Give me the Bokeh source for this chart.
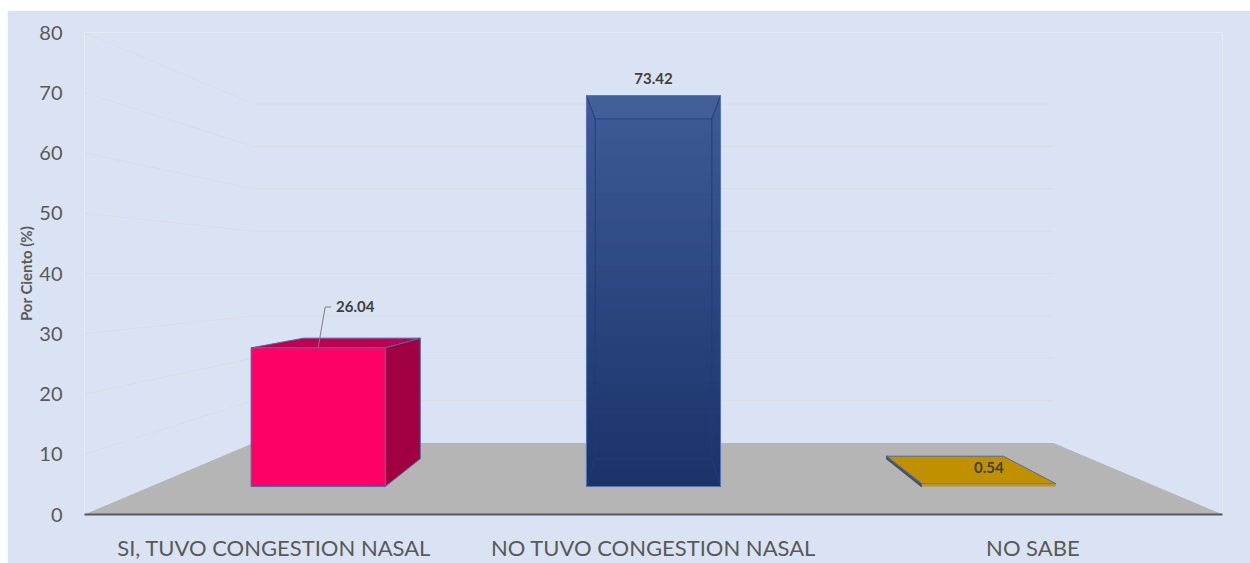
from bokeh.plotting import figure
from bokeh.models import Range1d, FixedTicker
from bokeh.core.properties import value
from bokeh.embed import file_html
from bokeh.resources import INLINE

# ---- data ----
categories = ["SI, TUVO CONGESTION NASAL", "NO TUVO CONGESTION NASAL", "NO SABE"]
percent = [26.04, 73.42, 0.54]
y_ticks = [0, 10, 20, 30, 40, 50, 60, 70, 80]
y_title = "Por Ciento (%)"

# ---- layout / style ----
BG = "#DAE3F3"
FONT = "Lato"
TEXT = "#595959"
N = len(categories)
CX, CV = N / 2, 40           # vanishing point: centre of the floor, value 40
S_BACK, S_FRONT, S_REAR = 0.703, 0.884, 0.7685   # depth scale of wall, bar front, bar rear
BAR_HALF = 0.2
EDGE = "#4F69A8"
label_dx = [37, 0, 0]
label_dy = [41, 17, 16]


def proj(x, v, s):
    return CX + (x - CX) * s, CV + (v - CV) * s


def face(points):
    return [p[0] for p in points], [p[1] for p in points]


p = figure(width=1243, height=553, output_backend="svg", toolbar_location=None,
           x_range=Range1d(0, N), y_range=Range1d(0, 80),
           min_border_left=77, min_border_right=28, min_border_top=22, min_border_bottom=47,
           background_fill_color=BG, border_fill_color=BG, outline_line_color=None,
           styles={"position": "absolute", "left": "7px", "top": "10px"})
p.grid.visible = False

# axes
xa = p.xaxis[0]
xa.ticker = FixedTicker(ticks=[i + 0.5 for i in range(N)])
xa.major_label_overrides = {i + 0.5: c for i, c in enumerate(categories)}
xa.major_label_text_font = FONT
xa.major_label_text_font_size = "22px"
xa.major_label_text_color = TEXT
xa.major_label_standoff = 13
xa.major_tick_line_color = None
xa.minor_tick_line_color = None
xa.axis_line_color = "#595959"
xa.axis_line_width = 2

ya = p.yaxis[0]
ya.ticker = FixedTicker(ticks=y_ticks)
ya.axis_line_color = None
ya.major_tick_line_color = None
ya.minor_tick_line_color = None
ya.major_label_text_font = FONT
ya.major_label_text_font_size = "20px"
ya.major_label_text_color = TEXT
ya.major_label_standoff = 16
ya.axis_label = y_title
ya.axis_label_text_font = FONT
ya.axis_label_text_font_size = "15px"
ya.axis_label_text_font_style = "bold"
ya.axis_label_text_color = TEXT
ya.axis_label_standoff = 1

# walls' grid lines
for t in y_ticks[1:]:
    bl = proj(0, t, S_BACK)
    br = proj(N, t, S_BACK)
    xs, ys = face([(0, t), bl, br])
    p.line(xs, ys, line_color="#DDDDDD", line_width=1)

# floor
xs, ys = face([proj(0, 0, 1), proj(0, 0, S_BACK), proj(N, 0, S_BACK), proj(N, 0, 1)])
p.patch(xs, ys, fill_color="#B5B5B5", line_color=None)


def lerp(c0, c1, t):
    a = [int(c0[i:i + 2], 16) for i in (1, 3, 5)]
    b = [int(c1[i:i + 2], 16) for i in (1, 3, 5)]
    return "#%02x%02x%02x" % tuple(round(u + (w - u) * t) for u, w in zip(a, b))


def corners(i, v):
    l, r = i + 0.5 - BAR_HALF, i + 0.5 + BAR_HALF
    return {"fl0": proj(l, 0, S_FRONT), "fr0": proj(r, 0, S_FRONT),
            "fl1": proj(l, v, S_FRONT), "fr1": proj(r, v, S_FRONT),
            "bl0": proj(l, 0, S_REAR), "br0": proj(r, 0, S_REAR),
            "bl1": proj(l, v, S_REAR), "br1": proj(r, v, S_REAR)}


# bar 1: solid box, right side visible
c = corners(0, percent[0])
xs, ys = face([c["fr0"], c["br0"], c["br1"], c["fr1"]])
p.patch(xs, ys, fill_color="#A0003F", line_color=EDGE, line_width=1)
xs, ys = face([c["fl1"], c["bl1"], c["br1"], c["fr1"]])
p.patch(xs, ys, fill_color="#BF0050", line_color=EDGE, line_width=1)
xs, ys = face([c["fl0"], c["fr0"], c["fr1"], c["fl1"]])
p.patch(xs, ys, fill_color="#FF0066", line_color=EDGE, line_width=1)

# bar 2: see-through box, shaded bottom to top (overlapping layers, tallest first)
c = corners(1, percent[1])
LAYERS = 60
tops = [percent[1] * (LAYERS - k) / LAYERS for k in range(LAYERS)]
cols = [lerp("#1A3369", "#3E5B98", (LAYERS - 1 - k) / (LAYERS - 1)) for k in range(LAYERS)]
p.quad(left=[c["fl0"][0]] * LAYERS, right=[c["fr0"][0]] * LAYERS,
       bottom=[c["fl0"][1]] * LAYERS,
       top=[proj(0, t, S_FRONT)[1] for t in tops],
       fill_color=cols, line_color=None)
inner = "#1F3C7C"
xs, ys = face([c["bl0"], c["br0"], c["br1"], c["bl1"], c["bl0"]])
p.line(xs, ys, line_color=inner, line_width=1.2, line_alpha=0.8)
for a, b in (("fl0", "bl0"), ("fr0", "br0"), ("fl1", "bl1"), ("fr1", "br1")):
    xs, ys = face([c[a], c[b]])
    p.line(xs, ys, line_color=inner, line_width=1.2, line_alpha=0.8)
xs, ys = face([c["fl1"], c["fr1"], c["br1"], c["bl1"]])
p.patch(xs, ys, fill_color="#FFFFFF", fill_alpha=0.03, line_color=None)
xs, ys = face([c["fl0"], c["fr0"], c["fr1"], c["fl1"]])
p.patch(xs, ys, fill_color=None, line_color="#5C78B4", line_width=1)

# bar 3: thin slab, left side visible
c = corners(2, percent[2])
xs, ys = face([c["fl0"], c["bl0"], c["bl1"], c["fl1"]])
p.patch(xs, ys, fill_color="#44546A", line_color="#44546A", line_width=1.5)
xs, ys = face([c["fl1"], c["bl1"], c["br1"], c["fr1"]])
p.patch(xs, ys, fill_color="#C09000", line_color=EDGE, line_width=1)
xs, ys = face([c["fl0"], c["fr0"], c["fr1"], c["fl1"]])
p.patch(xs, ys, fill_color="#B8962E", line_color=None)

# data labels and the leader of the first one
lx, ly = [], []
for i, v in enumerate(percent):
    x, y = proj(i + 0.5, v, S_FRONT)
    lx.append(x)
    ly.append(y)
p.text(lx, ly, text=[f"{v:.2f}" for v in percent],
       x_offset=label_dx, y_offset=[-d for d in label_dy],
       text_font=value(FONT), text_font_size="15px", text_font_style="bold",
       text_color="#404040", text_align="center", text_baseline="middle")
UX = N / 1138      # data units per pixel
UY = 80 / 484
xs = [lx[0], lx[0] + 7 * UX, lx[0] + 13 * UX]
ys = [ly[0], ly[0] + 41 * UY, ly[0] + 41 * UY]
p.line(xs, ys, line_color="#7F7F7F", line_width=1)

open("out.html", "w").write(file_html(p, INLINE))
